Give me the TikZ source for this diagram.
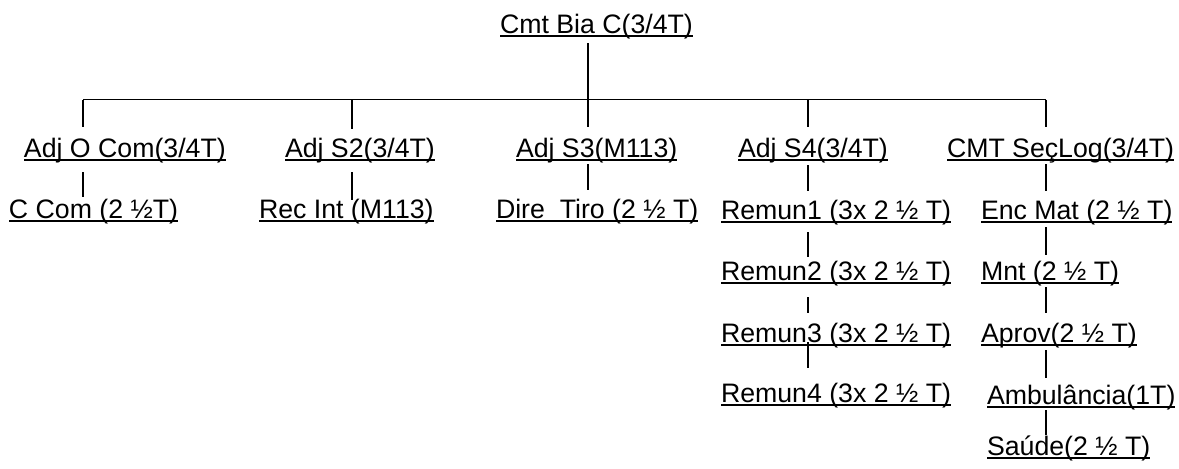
\documentclass[tikz,border=0pt]{standalone}
\usepackage{fontspec}
\setmainfont{Liberation Sans}
\begin{document}
\begin{tikzpicture}[x=0.5pt,y=-0.5pt,
  lbl/.style={inner sep=0pt, outer sep=0pt, anchor=base west, text height=10pt, text depth=3pt,
    font=\fontsize{13.35pt}{16pt}\selectfont},
  conn/.style={line width=0.85pt, black},
  ul/.style={line width=0.8pt, black}]
\useasboundingbox (0,0) rectangle (1179,468);
% nodes
\node[lbl] (root) at (500,33) {Cmt Bia C(3/4T)};
\node[lbl] (aoc)  at (24,157)  {Adj O Com(3/4T)};
\node[lbl] (s2)   at (285,157) {Adj S2(3/4T)};
\node[lbl] (s3)   at (516,157) {Adj S3(M113)};
\node[lbl] (s4)   at (738,157) {Adj S4(3/4T)};
\node[lbl] (slog) at (947,157) {CMT SeçLog(3/4T)};
\node[lbl] (ccom) at (9,218)   {C Com (2 ½T)};
\node[lbl] (rec)  at (259,218) {Rec Int (M113)};
\node[lbl] (dire) at (496,218) {Dire\ \ Tiro (2 ½ T)};
\node[lbl] (r1)   at (721,219) {Remun1 (3x 2 ½ T)};
\node[lbl] (enc)  at (981,219) {Enc Mat (2 ½ T)};
\node[lbl] (r2)   at (721,280) {Remun2 (3x 2 ½ T)};
\node[lbl] (mnt)  at (981,280) {Mnt (2 ½ T)};
\node[lbl] (r3)   at (721,342) {Remun3 (3x 2 ½ T)};
\node[lbl] (apr)  at (981,342) {Aprov(2 ½ T)};
\node[lbl] (r4)   at (721,402) {Remun4 (3x 2 ½ T)};
\node[lbl] (amb)  at (987,404) {Ambulância(1T)};
\node[lbl] (sau)  at (987,455) {Saúde(2 ½ T)};
% underlines
\foreach \n in {root,aoc,s2,s3,s4,slog,ccom,rec,dire,r1,enc,r2,mnt,r3,apr,r4,amb,sau}
  \draw[ul] ([yshift=-1.5pt]\n.base west) -- ([yshift=-1.5pt]\n.base east);
% bus coordinates
\coordinate (c1) at (83,99.5);
\coordinate (c2) at (352,99.5);
\coordinate (c3) at (588,99.5);
\coordinate (c4) at (808,99.5);
\coordinate (c5) at (1046,99.5);
% root to bus and S3
\draw[conn] ([yshift=-2pt]root.south -| c3) -- ([yshift=5pt]s3.north -| c3);
\draw[conn] (c1) -- (c5);
\draw[conn] (c1) -- ([yshift=5pt]aoc.north -| c1);
\draw[conn] (c2) -- ([yshift=4pt]s2.north -| c2);
\draw[conn] (c4) -- ([yshift=5pt]s4.north -| c4);
\draw[conn] (c5) -- ([yshift=5pt]slog.north -| c5);
% level 1 to level 2
\draw[conn] ([yshift=-4.5pt]aoc.south -| c1) -- ([yshift=0.5pt]ccom.north -| c1);
\draw[conn] ([yshift=-4.5pt]s2.south -| c2) -- ([yshift=-1pt]rec.north -| c2);
\draw[conn] ([yshift=-0.5pt]s3.south -| c3) -- ([yshift=4pt]dire.north -| c3);
\draw[conn] ([yshift=-1pt]s4.south -| c4) -- ([yshift=4pt]r1.north -| c4);
\draw[conn] ([yshift=-0.5pt]slog.south -| c5) -- ([yshift=4pt]enc.north -| c5);
% column 4
\draw[conn] ([yshift=-3.5pt]r1.south -| c4) -- ([yshift=1.5pt]r2.north -| c4);
\draw[conn] ([yshift=-5.5pt]r2.south -| c4) -- ([yshift=4.5pt]r3.north -| c4);
\draw[conn] ([yshift=3pt]r3.south -| c4) -- ([yshift=7pt]r4.north -| c4);
% column 5
\draw[conn] ([yshift=-1pt]enc.south -| c5) -- ([yshift=2.5pt]mnt.north -| c5);
\draw[conn] ([yshift=-0.5pt]mnt.south -| c5) -- ([yshift=4.5pt]apr.north -| c5);
\draw[conn] ([yshift=-1pt]apr.south -| c5) -- ([yshift=3pt]amb.north -| c5);
\draw[conn] (amb.south -| c5) -- (sau.north -| c5);
\end{tikzpicture}
\end{document}
